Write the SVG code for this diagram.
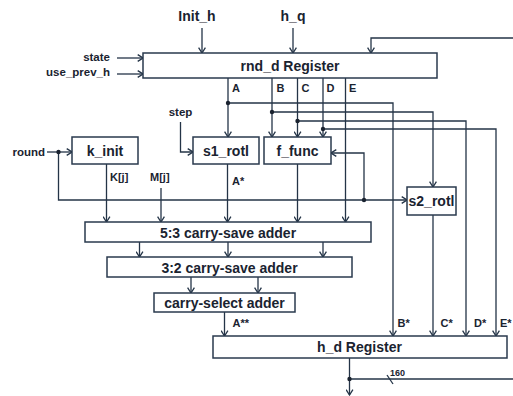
<svg xmlns="http://www.w3.org/2000/svg" width="513" height="396" viewBox="0 0 513 396">
<defs>
<marker id="arr" markerUnits="userSpaceOnUse" viewBox="0 0 7 8" refX="6.3" refY="4" markerWidth="7" markerHeight="8" orient="auto">
<path d="M1,0.6 L6.3,4 L1,7.4" fill="none" stroke="#243447" stroke-width="1.3"/>
</marker>
</defs>
<style>
.box{fill:#ffffff;stroke:#2a3a4e;stroke-width:1.5}
.bt{font-family:"Liberation Sans",Arial,sans-serif;font-weight:bold;font-size:14px;fill:#1a2330;text-anchor:middle}
.lb{font-family:"Liberation Sans",Arial,sans-serif;font-weight:bold;font-size:11.5px;fill:#1a2330}
.sm{font-family:"Liberation Sans",Arial,sans-serif;font-weight:bold;font-size:11px;fill:#1a2330}
.w{fill:none;stroke:#243447;stroke-width:1.3}
.a{marker-end:url(#arr)}
.dot{fill:#1a2330}
</style>
<rect width="513" height="396" fill="#ffffff"/>
<g id="connectors">
<path class="w a" d="M202,28 V53"/>
<path class="w a" d="M293,28 V53"/>
<path class="w a" d="M513,38 H371 V53"/>
<path class="w a" d="M117,58 H143"/>
<path class="w a" d="M117,74 H143"/>
<path class="w a" d="M228,78 V137"/>
<path class="w a" d="M228,103 H393 V336"/>
<path class="w a" d="M272,78 V137"/>
<path class="w a" d="M272,112 H433 V187"/>
<path class="w a" d="M297.5,78 V137"/>
<path class="w a" d="M297.5,121 H466 V336"/>
<path class="w a" d="M323,78 V137"/>
<path class="w a" d="M323,129 H496 V336"/>
<path class="w a" d="M345.5,78 V222"/>
<path class="w a" d="M180.5,122 V152 H193"/>
<path class="w a" d="M47,152 H72"/>
<path class="w a" d="M58.5,152 V200 H407"/>
<path class="w a" d="M364,200 V153 H331"/>
<path class="w a" d="M106.5,164 V222"/>
<path class="w a" d="M161,188 V222"/>
<path class="w a" d="M227.5,164 V222"/>
<path class="w a" d="M297.5,164 V222"/>
<path class="w a" d="M433,215 V336"/>
<path class="w a" d="M139.5,242 V257"/>
<path class="w a" d="M228,242 V257"/>
<path class="w a" d="M323,242 V257"/>
<path class="w a" d="M191,277 V293"/>
<path class="w a" d="M258,277 V293"/>
<path class="w a" d="M224.5,312 V336"/>
<path class="w a" d="M349.5,358 V395"/>
<path class="w" d="M349.5,379 H513"/>
<path class="w" d="M387,375 L393,384"/>
<circle class="dot" cx="228" cy="103" r="2.2"/>
<circle class="dot" cx="272" cy="112" r="2.2"/>
<circle class="dot" cx="297.5" cy="121" r="2.2"/>
<circle class="dot" cx="323" cy="129" r="2.2"/>
<circle class="dot" cx="58.5" cy="152" r="2.2"/>
<circle class="dot" cx="364" cy="200" r="2.2"/>
<circle class="dot" cx="349.5" cy="379" r="2.2"/>
</g>
<g id="labels">
<text class="bt" x="197" y="21">Init_h</text>
<text class="bt" x="293" y="21">h_q</text>
<text class="lb" x="110" y="60.5" text-anchor="end">state</text>
<text class="lb" x="110" y="76" text-anchor="end">use_prev_h</text>
<text class="sm" x="232" y="92">A</text>
<text class="sm" x="276.5" y="92">B</text>
<text class="sm" x="301.5" y="92">C</text>
<text class="sm" x="326.5" y="92">D</text>
<text class="sm" x="349" y="92">E</text>
<text class="lb" x="180.5" y="115.5" text-anchor="middle">step</text>
<text class="lb" x="45" y="156" text-anchor="end">round</text>
<text class="sm" x="110" y="181">K[j]</text>
<text class="sm" x="150" y="181">M[j]</text>
<text class="sm" x="232" y="185">A*</text>
<text class="sm" x="232.5" y="327">A**</text>
<text class="sm" x="397.5" y="327">B*</text>
<text class="sm" x="440.5" y="327">C*</text>
<text class="sm" x="474" y="327">D*</text>
<text class="sm" x="500" y="327">E*</text>
<text class="sm" x="390" y="376" style="font-size:9px">160</text>
</g>
<g id="rnd_d"><rect class="box" x="143" y="53" width="294" height="25"/><text class="bt" x="290" y="70.5">rnd_d Register</text></g>
<g id="k_init"><rect class="box" x="72" y="137" width="66" height="27"/><text class="bt" x="105" y="155.5">k_init</text></g>
<g id="s1_rotl"><rect class="box" x="193" y="137" width="66" height="27"/><text class="bt" x="226" y="155.5">s1_rotl</text></g>
<g id="f_func"><rect class="box" x="264" y="137" width="67" height="27"/><text class="bt" x="297.5" y="155.5">f_func</text></g>
<g id="s2_rotl"><rect class="box" x="407" y="187" width="49" height="28"/><text class="bt" x="431.5" y="206">s2_rotl</text></g>
<g id="csa53"><rect class="box" x="85" y="222" width="286" height="20"/><text class="bt" x="228" y="237.5">5:3 carry-save adder</text></g>
<g id="csa32"><rect class="box" x="107" y="257" width="245" height="20"/><text class="bt" x="229.5" y="272.5">3:2 carry-save adder</text></g>
<g id="csel"><rect class="box" x="154" y="293" width="141" height="19"/><text class="bt" x="224.5" y="308">carry-select adder</text></g>
<g id="h_d"><rect class="box" x="213" y="336" width="294" height="22"/><text class="bt" x="359.5" y="352">h_d Register</text></g>
</svg>
